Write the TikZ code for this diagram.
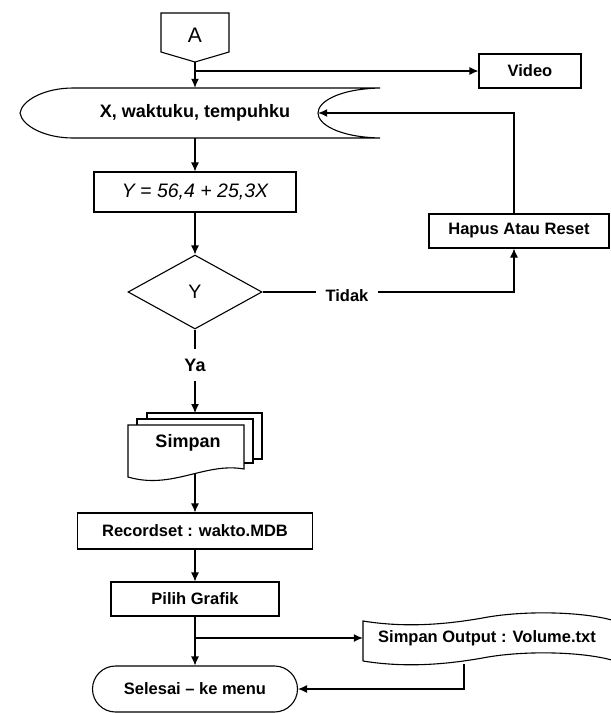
\documentclass[tikz,border=0pt]{standalone}
\usepackage{fontspec}
\setmainfont{Liberation Sans}
\usetikzlibrary{shapes.geometric,arrows.meta}
\newcommand\lbl{\fontsize{16.5}{18}\selectfont\bfseries}
\begin{document}
\begin{tikzpicture}[x=1pt, y=-1pt,
    flow/.style={line width=1.1pt},
    arr/.style={flow, -{Latex[length=9pt,width=8pt]}},
    box/.style={draw, flow, rectangle, inner sep=0pt, font=\lbl},
    decision/.style={draw, flow, diamond, inner sep=0pt,
        minimum width=134pt, minimum height=74pt},
    terminal/.style={draw, flow, rectangle, rounded corners=23pt,
        inner sep=0pt, minimum width=205pt, minimum height=46pt, font=\lbl},
    tag/.style={inner xsep=9.5pt, inner ysep=10pt, font=\lbl}]
    \clip (0,0) rectangle (611,713);

    % nodes
    \node (A) at (195,35) {\fontsize{21}{22}\selectfont A};
    \coordinate (Abot) at (195,62);
    \node[box, minimum width=102pt, minimum height=34pt] (video) at (530,71) {Video};
    \node[inner sep=0pt, minimum width=246pt, minimum height=50pt,
        font=\fontsize{18}{20}\selectfont\bfseries] (disp) at (195,113) {X, waktuku, tempuhku};
    \node[box, minimum width=202pt, minimum height=40pt,
        font=\fontsize{19.5}{21}\selectfont\itshape] (form) at (195,192) {Y = 56,4 + 25,3X};
    \node[decision, font=\fontsize{19.5}{21}\selectfont] (dec) at (195,292) {Y};
    \node[tag] (tidak) at (347,296) {Tidak};
    \node[box, minimum width=180pt, minimum height=34pt] (hapus) at (519,231) {Hapus Atau Reset};
    \node[tag, font=\fontsize{18}{20}\selectfont\bfseries] (ya) at (195,365) {Ya};
    \node[font=\fontsize{18}{20}\selectfont\bfseries] (simpan) at (188,443) {Simpan};
    \coordinate (docsin) at (195,413);
    \coordinate (docsout) at (195,474);
    \node[box, minimum width=235pt, minimum height=36pt] (rec) at (195,531) {Recordset : wakto.MDB};
    \node[box, minimum width=168pt, minimum height=34pt] (pilih) at (195,599) {Pilih Grafik};
    \node[inner sep=0pt, minimum width=248pt, minimum height=40pt, font=\lbl] (out) at (487,638) {Simpan Output : Volume.txt};
    \coordinate (outbot) at (464,664);
    \node[terminal] (end) at (195,689) {Selesai -- ke menu};

    % shapes
    \draw[flow] (161,13) -- (229,13) -- (229,52) -- (Abot) -- (161,52) -- cycle;
    \draw[flow] (73,88) -- (380,88) .. controls (338,89) and (318,102) .. (318,113)
        .. controls (318,124) and (338,137) .. (380,138) -- (73,138)
        .. controls (45,138) and (22,126) .. (20,113)
        .. controls (22,100) and (45,88) .. cycle;
    \draw[flow] (147,419) -- (147,413) -- (262,413) -- (262,459) -- (253,459);
    \draw[flow] (137,425) -- (137,419) -- (253,419) -- (253,463) -- (244,463);
    \draw[flow] (128,477) -- (128,425) -- (244,425) -- (244,469)
        .. controls (205,462) and (172,490) .. cycle;
    \draw[flow] (363,661) -- (363,621) .. controls (400,627) and (440,626) .. (488,617)
        .. controls (530,610) and (590,612) .. (618,622) -- (618,662)
        .. controls (590,652) and (530,650) .. (488,657)
        .. controls (440,666) and (400,667) .. (363,661);

    % connectors
    \draw[arr] (Abot) -- (disp.north);
    \draw[arr] (Abot |- video.west) -- (video.west);
    \draw[arr] (disp.south) -- (form.north);
    \draw[arr] (form.south) -- (dec.north);
    \draw[flow] (dec.east) -- (tidak.west |- dec.east);
    \draw[arr] (tidak.east |- dec.east) -| ([xshift=-5pt]hapus.south);
    \draw[arr] ([xshift=-5pt]hapus.north) |- (disp.east);
    \draw[flow] (dec.south) -- (ya.north);
    \draw[arr] (ya.south) -- (docsin);
    \draw[arr] (docsout) -- (rec.north);
    \draw[arr] (rec.south) -- (pilih.north);
    \draw[arr] (pilih.south) -- (end.north);
    \draw[arr] (pilih.south |- out.west) -- (out.west);
    \draw[arr] (outbot) |- (end.east);
\end{tikzpicture}
\end{document}
